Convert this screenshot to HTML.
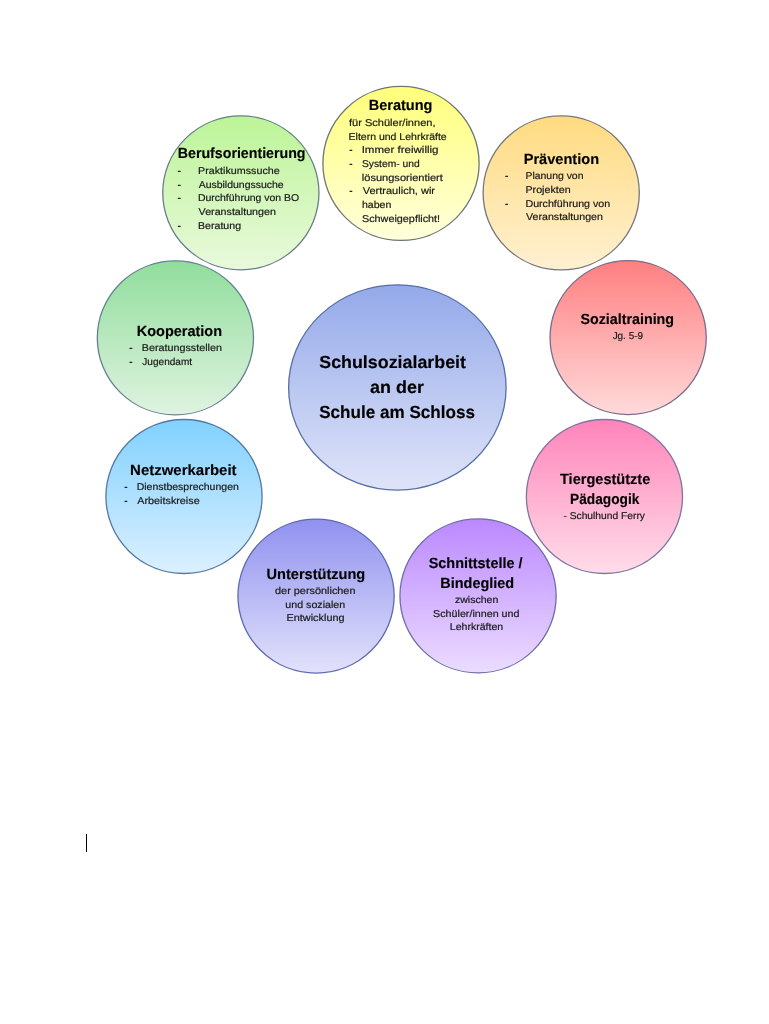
<!DOCTYPE html>
<html lang="de">
<head>
<meta charset="utf-8">
<title>Schulsozialarbeit an der Schule am Schloss</title>
<style>
html,body{margin:0;padding:0;background:#fff;}
body{width:769px;height:1024px;overflow:hidden;position:relative;}
svg{position:absolute;left:0;top:0;display:block;will-change:transform;filter:blur(0.4px);}
text{font-family:"Liberation Sans",sans-serif;fill:#1a1a1a;stroke:#1a1a1a;stroke-width:0.2px;stroke-linejoin:round;text-rendering:geometricPrecision;}
.b{font-weight:bold;fill:#000;stroke:#000;stroke-width:0.15px;}
.d{stroke-width:0.7px;}
.caret{position:absolute;left:86px;top:834px;width:1px;height:18px;background:#000;}
</style>
</head>
<body>
<svg width="769" height="1024" viewBox="0 0 769 1024">
<defs>
<linearGradient id="g-center" x1="0" y1="0" x2="0" y2="1"><stop offset="0" stop-color="#94a9ea"/><stop offset="1" stop-color="#dfe4f8"/></linearGradient>
<linearGradient id="g-beratung" x1="0" y1="0" x2="0" y2="1"><stop offset="0" stop-color="#ffff7a"/><stop offset="1" stop-color="#ffffdc"/></linearGradient>
<linearGradient id="g-beruf" x1="0" y1="0" x2="0" y2="1"><stop offset="0" stop-color="#bcf497"/><stop offset="1" stop-color="#e9f9dc"/></linearGradient>
<linearGradient id="g-praev" x1="0" y1="0" x2="0" y2="1"><stop offset="0" stop-color="#ffdb80"/><stop offset="1" stop-color="#fff0d2"/></linearGradient>
<linearGradient id="g-koop" x1="0" y1="0" x2="0" y2="1"><stop offset="0" stop-color="#90dd9c"/><stop offset="1" stop-color="#e0f3e0"/></linearGradient>
<linearGradient id="g-sozial" x1="0" y1="0" x2="0" y2="1"><stop offset="0" stop-color="#ff7f81"/><stop offset="1" stop-color="#ffdada"/></linearGradient>
<linearGradient id="g-netz" x1="0" y1="0" x2="0" y2="1"><stop offset="0" stop-color="#81d1ff"/><stop offset="1" stop-color="#dcf0ff"/></linearGradient>
<linearGradient id="g-tier" x1="0" y1="0" x2="0" y2="1"><stop offset="0" stop-color="#ff84ba"/><stop offset="1" stop-color="#ffdde9"/></linearGradient>
<linearGradient id="g-unter" x1="0" y1="0" x2="0" y2="1"><stop offset="0" stop-color="#9091ef"/><stop offset="1" stop-color="#e2e2fb"/></linearGradient>
<linearGradient id="g-schnitt" x1="0" y1="0" x2="0" y2="1"><stop offset="0" stop-color="#bb88ff"/><stop offset="1" stop-color="#ebdcff"/></linearGradient>
</defs>
<ellipse cx="397.35" cy="387.45" rx="108.75" ry="102.65" fill="url(#g-center)" stroke="#586ea6" stroke-width="1.3"/>
<ellipse cx="401.00" cy="163.45" rx="78.10" ry="77.00" fill="url(#g-beratung)" stroke="#6c7674" stroke-width="1.3"/>
<ellipse cx="240.85" cy="192.85" rx="78.10" ry="77.00" fill="url(#g-beruf)" stroke="#667f8a" stroke-width="1.3"/>
<ellipse cx="561.20" cy="192.95" rx="78.10" ry="77.00" fill="url(#g-praev)" stroke="#75777e" stroke-width="1.3"/>
<ellipse cx="175.40" cy="337.90" rx="78.10" ry="77.00" fill="url(#g-koop)" stroke="#628294" stroke-width="1.3"/>
<ellipse cx="628.15" cy="337.60" rx="78.10" ry="77.00" fill="url(#g-sozial)" stroke="#7a6c8c" stroke-width="1.3"/>
<ellipse cx="184.00" cy="496.50" rx="78.10" ry="77.00" fill="url(#g-netz)" stroke="#5578a4" stroke-width="1.3"/>
<ellipse cx="604.45" cy="496.50" rx="78.10" ry="77.00" fill="url(#g-tier)" stroke="#8274a2" stroke-width="1.3"/>
<ellipse cx="316.05" cy="596.10" rx="78.10" ry="77.00" fill="url(#g-unter)" stroke="#5f6aae" stroke-width="1.3"/>
<ellipse cx="478.05" cy="595.90" rx="78.10" ry="77.00" fill="url(#g-schnitt)" stroke="#6e6ea8" stroke-width="1.3"/>
<text x="319.24" y="368.00" font-size="17.50" textLength="146.78" lengthAdjust="spacingAndGlyphs" class="b">Schulsozialarbeit</text>
<text x="370.06" y="393.00" font-size="17.50" textLength="53.88" lengthAdjust="spacingAndGlyphs" class="b">an der</text>
<text x="319.18" y="418.00" font-size="17.50" textLength="155.85" lengthAdjust="spacingAndGlyphs" class="b">Schule am Schloss</text>
<text x="368.70" y="110.00" font-size="14.70" textLength="63.74" lengthAdjust="spacingAndGlyphs" class="b">Beratung</text>
<text x="348.99" y="126.00" font-size="9.90" textLength="86.49" lengthAdjust="spacingAndGlyphs">für Schüler/innen,</text>
<text x="348.57" y="140.00" font-size="9.90" textLength="98.13" lengthAdjust="spacingAndGlyphs">Eltern und Lehrkräfte</text>
<text x="349.52" y="153.00" font-size="9.90" textLength="2.90" lengthAdjust="spacingAndGlyphs" class="d">-</text>
<text x="361.66" y="153.00" font-size="9.90" textLength="76.87" lengthAdjust="spacingAndGlyphs">Immer freiwillig</text>
<text x="349.52" y="167.00" font-size="9.90" textLength="2.90" lengthAdjust="spacingAndGlyphs" class="d">-</text>
<text x="361.96" y="167.00" font-size="9.90" textLength="57.83" lengthAdjust="spacingAndGlyphs">System- und</text>
<text x="361.83" y="181.00" font-size="9.90" textLength="81.01" lengthAdjust="spacingAndGlyphs">lösungsorientiert</text>
<text x="349.52" y="194.00" font-size="9.90" textLength="2.90" lengthAdjust="spacingAndGlyphs" class="d">-</text>
<text x="362.72" y="194.00" font-size="9.90" textLength="72.29" lengthAdjust="spacingAndGlyphs">Vertraulich, wir</text>
<text x="361.92" y="208.00" font-size="9.90" textLength="29.48" lengthAdjust="spacingAndGlyphs">haben</text>
<text x="361.97" y="222.00" font-size="9.90" textLength="78.15" lengthAdjust="spacingAndGlyphs">Schweigepflicht!</text>
<text x="177.78" y="158.00" font-size="14.70" textLength="127.76" lengthAdjust="spacingAndGlyphs" class="b">Berufsorientierung</text>
<text x="177.87" y="174.00" font-size="9.90" textLength="2.90" lengthAdjust="spacingAndGlyphs" class="d">-</text>
<text x="198.08" y="174.00" font-size="9.90" textLength="81.64" lengthAdjust="spacingAndGlyphs">Praktikumssuche</text>
<text x="177.87" y="188.00" font-size="9.90" textLength="2.90" lengthAdjust="spacingAndGlyphs" class="d">-</text>
<text x="198.67" y="188.00" font-size="9.90" textLength="85.03" lengthAdjust="spacingAndGlyphs">Ausbildungssuche</text>
<text x="177.87" y="201.00" font-size="9.90" textLength="2.90" lengthAdjust="spacingAndGlyphs" class="d">-</text>
<text x="197.95" y="201.00" font-size="9.90" textLength="101.27" lengthAdjust="spacingAndGlyphs">Durchführung von BO</text>
<text x="198.60" y="215.00" font-size="9.90" textLength="77.32" lengthAdjust="spacingAndGlyphs">Veranstaltungen</text>
<text x="177.87" y="229.00" font-size="9.90" textLength="2.90" lengthAdjust="spacingAndGlyphs" class="d">-</text>
<text x="198.05" y="229.00" font-size="9.90" textLength="43.02" lengthAdjust="spacingAndGlyphs">Beratung</text>
<text x="523.69" y="164.00" font-size="14.70" textLength="75.38" lengthAdjust="spacingAndGlyphs" class="b">Prävention</text>
<text x="505.28" y="179.00" font-size="9.90" textLength="2.90" lengthAdjust="spacingAndGlyphs" class="d">-</text>
<text x="525.47" y="179.00" font-size="9.90" textLength="57.99" lengthAdjust="spacingAndGlyphs">Planung von</text>
<text x="525.47" y="193.00" font-size="9.90" textLength="45.19" lengthAdjust="spacingAndGlyphs">Projekten</text>
<text x="505.28" y="207.00" font-size="9.90" textLength="2.90" lengthAdjust="spacingAndGlyphs" class="d">-</text>
<text x="525.46" y="207.00" font-size="9.90" textLength="84.68" lengthAdjust="spacingAndGlyphs">Durchführung von</text>
<text x="526.04" y="220.00" font-size="9.90" textLength="76.89" lengthAdjust="spacingAndGlyphs">Veranstaltungen</text>
<text x="136.75" y="336.00" font-size="14.70" textLength="85.30" lengthAdjust="spacingAndGlyphs" class="b">Kooperation</text>
<text x="129.52" y="351.00" font-size="9.90" textLength="2.90" lengthAdjust="spacingAndGlyphs" class="d">-</text>
<text x="141.87" y="351.00" font-size="9.90" textLength="80.01" lengthAdjust="spacingAndGlyphs">Beratungsstellen</text>
<text x="129.52" y="365.00" font-size="9.90" textLength="2.90" lengthAdjust="spacingAndGlyphs" class="d">-</text>
<text x="142.35" y="365.00" font-size="9.90" textLength="49.72" lengthAdjust="spacingAndGlyphs">Jugendamt</text>
<text x="580.39" y="324.00" font-size="14.70" textLength="93.71" lengthAdjust="spacingAndGlyphs" class="b">Sozialtraining</text>
<text x="612.65" y="339.00" font-size="9.90" textLength="30.35" lengthAdjust="spacingAndGlyphs">Jg. 5-9</text>
<text x="130.13" y="475.00" font-size="14.70" textLength="106.43" lengthAdjust="spacingAndGlyphs" class="b">Netzwerkarbeit</text>
<text x="124.45" y="490.00" font-size="9.90" textLength="2.90" lengthAdjust="spacingAndGlyphs" class="d">-</text>
<text x="136.71" y="490.00" font-size="9.90" textLength="102.11" lengthAdjust="spacingAndGlyphs">Dienstbesprechungen</text>
<text x="124.45" y="504.00" font-size="9.90" textLength="2.90" lengthAdjust="spacingAndGlyphs" class="d">-</text>
<text x="137.33" y="504.00" font-size="9.90" textLength="62.32" lengthAdjust="spacingAndGlyphs">Arbeitskreise</text>
<text x="560.00" y="484.00" font-size="14.70" textLength="90.26" lengthAdjust="spacingAndGlyphs" class="b">Tiergestützte</text>
<text x="570.05" y="504.00" font-size="14.70" textLength="69.32" lengthAdjust="spacingAndGlyphs" class="b">Pädagogik</text>
<text x="563.43" y="519.00" font-size="9.90" textLength="81.54" lengthAdjust="spacingAndGlyphs">- Schulhund Ferry</text>
<text x="266.51" y="579.00" font-size="14.70" textLength="98.77" lengthAdjust="spacingAndGlyphs" class="b">Unterstützung</text>
<text x="275.06" y="594.00" font-size="9.90" textLength="80.43" lengthAdjust="spacingAndGlyphs">der persönlichen</text>
<text x="285.37" y="608.00" font-size="9.90" textLength="59.82" lengthAdjust="spacingAndGlyphs">und sozialen</text>
<text x="286.58" y="621.00" font-size="9.90" textLength="57.93" lengthAdjust="spacingAndGlyphs">Entwicklung</text>
<text x="428.71" y="568.00" font-size="14.70" textLength="93.82" lengthAdjust="spacingAndGlyphs" class="b">Schnittstelle /</text>
<text x="440.35" y="588.00" font-size="14.70" textLength="73.83" lengthAdjust="spacingAndGlyphs" class="b">Bindeglied</text>
<text x="454.99" y="603.00" font-size="9.90" textLength="43.37" lengthAdjust="spacingAndGlyphs">zwischen</text>
<text x="433.10" y="617.00" font-size="9.90" textLength="86.41" lengthAdjust="spacingAndGlyphs">Schüler/innen und</text>
<text x="449.77" y="630.00" font-size="9.90" textLength="53.42" lengthAdjust="spacingAndGlyphs">Lehrkräften</text>
</svg>
<div class="caret"></div>
</body>
</html>
